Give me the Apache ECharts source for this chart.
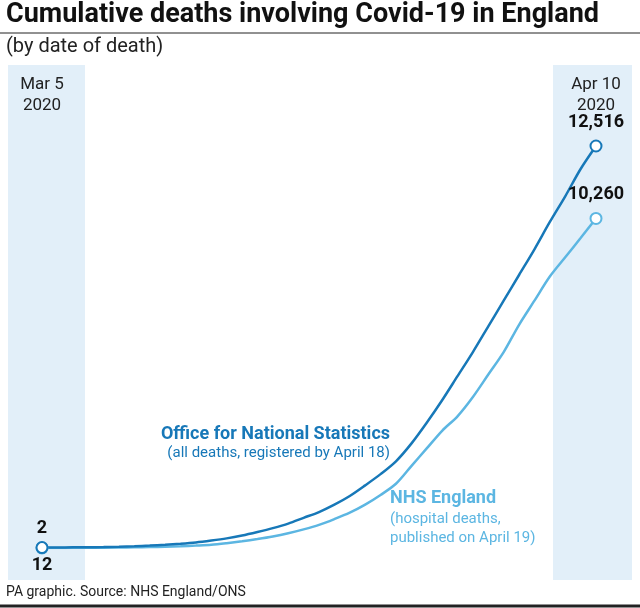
<!DOCTYPE html>
<html>
<head>
<meta charset="utf-8">
<script src="https://cdn.jsdelivr.net/npm/echarts@6/dist/echarts.min.js"></script>
<style>
  html, body { margin: 0; padding: 0; background: #fff; }
  #chart { width: 640px; height: 608px; }
</style>
</head>
<body>
<div id="chart"></div>
<script>
// days from Mar 5 to Apr 10 2020
var days = [];
for (var i = 0; i < 37; i++) days.push('d' + i);

// ONS cumulative deaths
var ons = [12, 15, 20, 25, 30, 40, 55, 75, 100, 130, 170, 230, 300, 390, 500, 620, 760, 940, 1120,
  1350, 1620, 1950, 2300, 2700, 3250, 3900, 4600, 5350, 6100, 6900, 7700, 8500, 9300, 10150, 10950, 11800, 12516];
// NHS England hospital deaths
var nhs = [2, 3, 5, 8, 11, 16, 22, 30, 40, 55, 75, 100, 150, 210, 280, 360, 460, 580, 720,
  900, 1100, 1350, 1650, 2000, 2550, 3100, 3650, 4100, 4700, 5400, 6100, 6950, 7700, 8450, 9050, 9650, 10260];

var darkBlue = '#1778b8';
var lightBlue = '#5cb6e2';
var band = '#e2eff9';

var myChart = echarts.init(document.getElementById('chart'));

function endSymbol(v, p) {
    return (p.dataIndex === 0 || p.dataIndex === 36) ? 11 : 0;
}

var endLabel = {
    show: true, position: 'top', distance: 8, fontSize: 18, fontWeight: 'bold', fontFamily: 'Roboto', color: '#111',
    formatter: function (p) { return p.dataIndex === 36 ? p.value.toLocaleString('en-GB') : ''; }
};

var option = {
    animation: false,
    grid: { left: 42, right: 44, top: 146, bottom: 60 },
    xAxis: { type: 'category', data: days, boundaryGap: false, show: false },
    yAxis: { type: 'value', min: 0, max: 12516, show: false },
    graphic: [
        { type: 'rect', shape: { x: 8, y: 65, width: 77, height: 515 }, style: { fill: band }, z: -10 },
        { type: 'rect', shape: { x: 553, y: 65, width: 79, height: 515 }, style: { fill: band }, z: -10 },
        { type: 'text', left: 6, top: 2, style: { text: 'Cumulative deaths involving Covid-19 in England', font: 'bold 27px Roboto', fill: '#111' } },
        { type: 'line', shape: { x1: 0, y1: 33, x2: 640, y2: 33 }, style: { stroke: '#222', lineWidth: 1 } },
        { type: 'text', left: 6, top: 37, style: { text: '(by date of death)', font: '20px Roboto', fill: '#222' } },
        { type: 'text', x: 42, y: 74, style: { text: 'Mar 5\n2020', font: '17px Roboto', fill: '#222', align: 'center', lineHeight: 21 } },
        { type: 'text', x: 596, y: 74, style: { text: 'Apr 10\n2020', font: '17px Roboto', fill: '#222', align: 'center', lineHeight: 21 } },
        { type: 'text', x: 390, y: 425, style: { text: 'Office for National Statistics', font: 'bold 18px Roboto', fill: darkBlue, align: 'right' } },
        { type: 'text', x: 390, y: 446, style: { text: '(all deaths, registered by April 18)', font: '15px Roboto', fill: darkBlue, align: 'right' } },
        { type: 'text', x: 390, y: 489, style: { text: 'NHS England', font: 'bold 18px Roboto', fill: lightBlue } },
        { type: 'text', x: 390, y: 510, style: { text: '(hospital deaths,\npublished on April 19)', font: '15px Roboto', fill: lightBlue, lineHeight: 19 } },
        { type: 'text', x: 42, y: 519, style: { text: '2', font: 'bold 18px Roboto', fill: '#111', align: 'center' } },
        { type: 'text', x: 42, y: 556, style: { text: '12', font: 'bold 18px Roboto', fill: '#111', align: 'center' } },
        { type: 'text', left: 6, top: 585, style: { text: 'PA graphic. Source: NHS England/ONS', font: '14px Roboto', fill: '#222' } },
        { type: 'line', shape: { x1: 0, y1: 606, x2: 640, y2: 606 }, style: { stroke: '#222', lineWidth: 3 } }
    ],
    series: [
        {
            name: 'NHS England', type: 'line', data: nhs, smooth: 0.3,
            symbol: 'emptyCircle', symbolSize: endSymbol, showAllSymbol: true,
            lineStyle: { color: lightBlue, width: 2.5 },
            itemStyle: { color: lightBlue, borderWidth: 2.5 },
            label: endLabel
        },
        {
            name: 'ONS', type: 'line', data: ons, smooth: 0.3,
            symbol: 'emptyCircle', symbolSize: endSymbol, showAllSymbol: true,
            lineStyle: { color: darkBlue, width: 2.5 },
            itemStyle: { color: darkBlue, borderWidth: 2.5 },
            label: endLabel
        }
    ]
};

myChart.setOption(option);
</script>
</body>
</html>
